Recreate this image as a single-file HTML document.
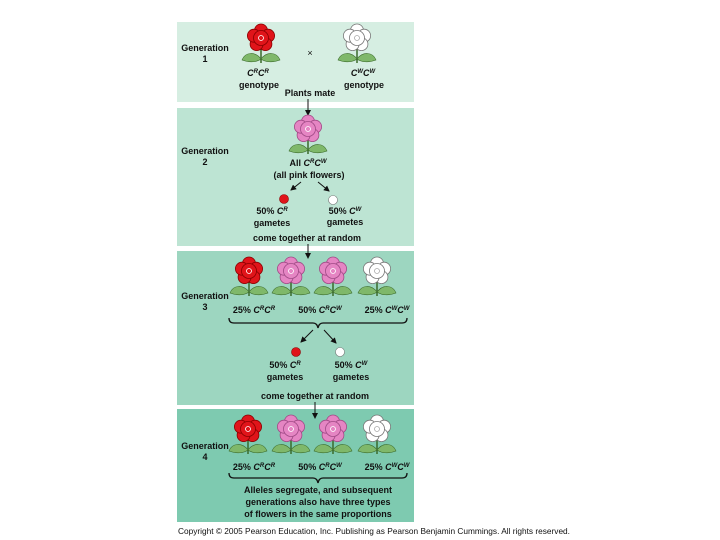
<!DOCTYPE html>
<html><head><meta charset="utf-8"><style>
html,body{margin:0;padding:0;background:#fff;}
svg{display:block;font-family:"Liberation Sans",Arial,sans-serif;}
text{font-size:9px;fill:#111;}
.b{font-weight:bold;}
</style></head><body>
<svg width="720" height="540" viewBox="0 0 720 540" xmlns="http://www.w3.org/2000/svg">
<defs>
<g id="fl">
  <path d="M0,8 L0,25" stroke="#3a6a2a" stroke-width="1.5"/>
  <path d="M0,21 C-6,13 -16,14 -19,22 C-11,25 -4,24 0,21Z" fill="#7fb86a" stroke="#3a6a2a" stroke-width="0.6"/>
  <path d="M0,21 C6,13 16,14 19,22 C11,25 4,24 0,21Z" fill="#7fb86a" stroke="#3a6a2a" stroke-width="0.6"/>
</g>
<g id="pet">
  <circle cx="0" cy="-7.5" r="6.5"/><circle cx="7.1" cy="-2.3" r="6.5"/><circle cx="4.4" cy="6.1" r="6.5"/>
  <circle cx="-4.4" cy="6.1" r="6.5"/><circle cx="-7.1" cy="-2.3" r="6.5"/><circle cx="0" cy="0" r="7.5"/>
</g>
<g id="red"><use href="#fl"/><g fill="#e0141a" stroke="#8a0000" stroke-width="0.8"><use href="#pet"/></g><circle r="2.5" fill="none" stroke="#fff" stroke-width="0.8"/></g>
<g id="pink"><use href="#fl"/><g fill="#e585c3" stroke="#a04a86" stroke-width="0.8"><use href="#pet"/></g><circle r="2.5" fill="none" stroke="#fff" stroke-width="0.8"/></g>
<g id="white"><use href="#fl"/><g fill="#fff" stroke="#777" stroke-width="0.8"><use href="#pet"/></g><circle r="2.5" fill="none" stroke="#aaa" stroke-width="0.8"/></g>
<marker id="ah" markerWidth="6" markerHeight="6" refX="5" refY="3" orient="auto"><path d="M0,0 L6,3 L0,6Z" fill="#111"/></marker>
</defs>

<rect x="177" y="22" width="237" height="80" fill="#d6eee2"/>
<rect x="177" y="108" width="237" height="138" fill="#bde4d3"/>
<rect x="177" y="251" width="237" height="154" fill="#9dd6c0"/>
<rect x="177" y="409" width="237" height="113" fill="#7ecab0"/>

<!-- Gen 1 -->
<text class="b" x="205" y="51" text-anchor="middle">Generation</text>
<text class="b" x="205" y="62" text-anchor="middle">1</text>
<use href="#red" x="261" y="38"/>
<use href="#white" x="357" y="38"/>
<text x="310" y="56" text-anchor="middle">×</text>
<text class="b" x="258" y="76" text-anchor="middle" font-style="italic">C<tspan font-size="6" dy="-3">R</tspan><tspan dy="3">C</tspan><tspan font-size="6" dy="-3">R</tspan></text>
<text class="b" x="259" y="88" text-anchor="middle">genotype</text>
<text class="b" x="363" y="76" text-anchor="middle" font-style="italic">C<tspan font-size="6" dy="-3">W</tspan><tspan dy="3">C</tspan><tspan font-size="6" dy="-3">W</tspan></text>
<text class="b" x="364" y="88" text-anchor="middle">genotype</text>
<text class="b" x="310" y="96" text-anchor="middle">Plants mate</text>
<line x1="308" y1="99" x2="308" y2="115" stroke="#111" marker-end="url(#ah)"/>

<!-- Gen 2 -->
<text class="b" x="205" y="154" text-anchor="middle">Generation</text>
<text class="b" x="205" y="165" text-anchor="middle">2</text>
<use href="#pink" x="308" y="129"/>
<text class="b" x="308" y="166" text-anchor="middle">All <tspan font-style="italic">C</tspan><tspan font-size="6" dy="-3" font-style="italic">R</tspan><tspan dy="3" font-style="italic">C</tspan><tspan font-size="6" dy="-3" font-style="italic">W</tspan></text>
<text class="b" x="309" y="178" text-anchor="middle">(all pink flowers)</text>
<line x1="301" y1="182" x2="291" y2="190" stroke="#111" marker-end="url(#ah)"/>
<line x1="318" y1="182" x2="329" y2="191" stroke="#111" marker-end="url(#ah)"/>
<circle cx="284" cy="199" r="4.5" fill="#e0141a" stroke="#8a0000" stroke-width="0.6"/>
<circle cx="333" cy="200" r="4.5" fill="#fff" stroke="#777" stroke-width="0.6"/>
<text class="b" x="272" y="214" text-anchor="middle">50% <tspan font-style="italic">C</tspan><tspan font-size="6" dy="-3" font-style="italic">R</tspan></text>
<text class="b" x="272" y="226" text-anchor="middle">gametes</text>
<text class="b" x="345" y="214" text-anchor="middle">50% <tspan font-style="italic">C</tspan><tspan font-size="6" dy="-3" font-style="italic">W</tspan></text>
<text class="b" x="345" y="225" text-anchor="middle">gametes</text>
<text class="b" x="307" y="241" text-anchor="middle">come together at random</text>
<line x1="308" y1="244" x2="308" y2="258" stroke="#111" marker-end="url(#ah)"/>

<!-- Gen 3 -->
<text class="b" x="205" y="299" text-anchor="middle">Generation</text>
<text class="b" x="205" y="310" text-anchor="middle">3</text>
<use href="#red" x="249" y="271"/>
<use href="#pink" x="291" y="271"/>
<use href="#pink" x="333" y="271"/>
<use href="#white" x="377" y="271"/>
<text class="b" x="254" y="313" text-anchor="middle">25% <tspan font-style="italic">C</tspan><tspan font-size="6" dy="-3" font-style="italic">R</tspan><tspan dy="3" font-style="italic">C</tspan><tspan font-size="6" dy="-3" font-style="italic">R</tspan></text>
<text class="b" x="320" y="313" text-anchor="middle">50% <tspan font-style="italic">C</tspan><tspan font-size="6" dy="-3" font-style="italic">R</tspan><tspan dy="3" font-style="italic">C</tspan><tspan font-size="6" dy="-3" font-style="italic">W</tspan></text>
<text class="b" x="387" y="313" text-anchor="middle">25% <tspan font-style="italic">C</tspan><tspan font-size="6" dy="-3" font-style="italic">W</tspan><tspan dy="3" font-style="italic">C</tspan><tspan font-size="6" dy="-3" font-style="italic">W</tspan></text>
<path d="M229,318 Q229,323 234,323 L313,323 Q317,323 318,328 Q319,323 323,323 L402,323 Q407,323 407,318" fill="none" stroke="#111" stroke-width="1.3"/>
<line x1="313" y1="330" x2="301" y2="342" stroke="#111" marker-end="url(#ah)"/>
<line x1="324" y1="330" x2="336" y2="343" stroke="#111" marker-end="url(#ah)"/>
<circle cx="296" cy="352" r="4.5" fill="#e0141a" stroke="#8a0000" stroke-width="0.6"/>
<circle cx="340" cy="352" r="4.5" fill="#fff" stroke="#777" stroke-width="0.6"/>
<text class="b" x="285" y="368" text-anchor="middle">50% <tspan font-style="italic">C</tspan><tspan font-size="6" dy="-3" font-style="italic">R</tspan></text>
<text class="b" x="285" y="380" text-anchor="middle">gametes</text>
<text class="b" x="351" y="368" text-anchor="middle">50% <tspan font-style="italic">C</tspan><tspan font-size="6" dy="-3" font-style="italic">W</tspan></text>
<text class="b" x="351" y="380" text-anchor="middle">gametes</text>
<text class="b" x="315" y="399" text-anchor="middle">come together at random</text>
<line x1="315" y1="402" x2="315" y2="418" stroke="#111" marker-end="url(#ah)"/>

<!-- Gen 4 -->
<text class="b" x="205" y="449" text-anchor="middle">Generation</text>
<text class="b" x="205" y="460" text-anchor="middle">4</text>
<use href="#red" x="248" y="429"/>
<use href="#pink" x="291" y="429"/>
<use href="#pink" x="333" y="429"/>
<use href="#white" x="377" y="429"/>
<text class="b" x="254" y="470" text-anchor="middle">25% <tspan font-style="italic">C</tspan><tspan font-size="6" dy="-3" font-style="italic">R</tspan><tspan dy="3" font-style="italic">C</tspan><tspan font-size="6" dy="-3" font-style="italic">R</tspan></text>
<text class="b" x="320" y="470" text-anchor="middle">50% <tspan font-style="italic">C</tspan><tspan font-size="6" dy="-3" font-style="italic">R</tspan><tspan dy="3" font-style="italic">C</tspan><tspan font-size="6" dy="-3" font-style="italic">W</tspan></text>
<text class="b" x="387" y="470" text-anchor="middle">25% <tspan font-style="italic">C</tspan><tspan font-size="6" dy="-3" font-style="italic">W</tspan><tspan dy="3" font-style="italic">C</tspan><tspan font-size="6" dy="-3" font-style="italic">W</tspan></text>
<path d="M229,473 Q229,478 234,478 L313,478 Q317,478 318,483 Q319,478 323,478 L402,478 Q407,478 407,473" fill="none" stroke="#111" stroke-width="1.3"/>
<text class="b" x="318" y="493" text-anchor="middle">Alleles segregate, and subsequent</text>
<text class="b" x="318" y="505" text-anchor="middle">generations also have three types</text>
<text class="b" x="318" y="517" text-anchor="middle">of flowers in the same proportions</text>

<text x="178" y="534" style="font-size:8.3px" textLength="392" lengthAdjust="spacingAndGlyphs">Copyright © 2005 Pearson Education, Inc. Publishing as Pearson Benjamin Cummings. All rights reserved.</text>
</svg>
</body></html>
